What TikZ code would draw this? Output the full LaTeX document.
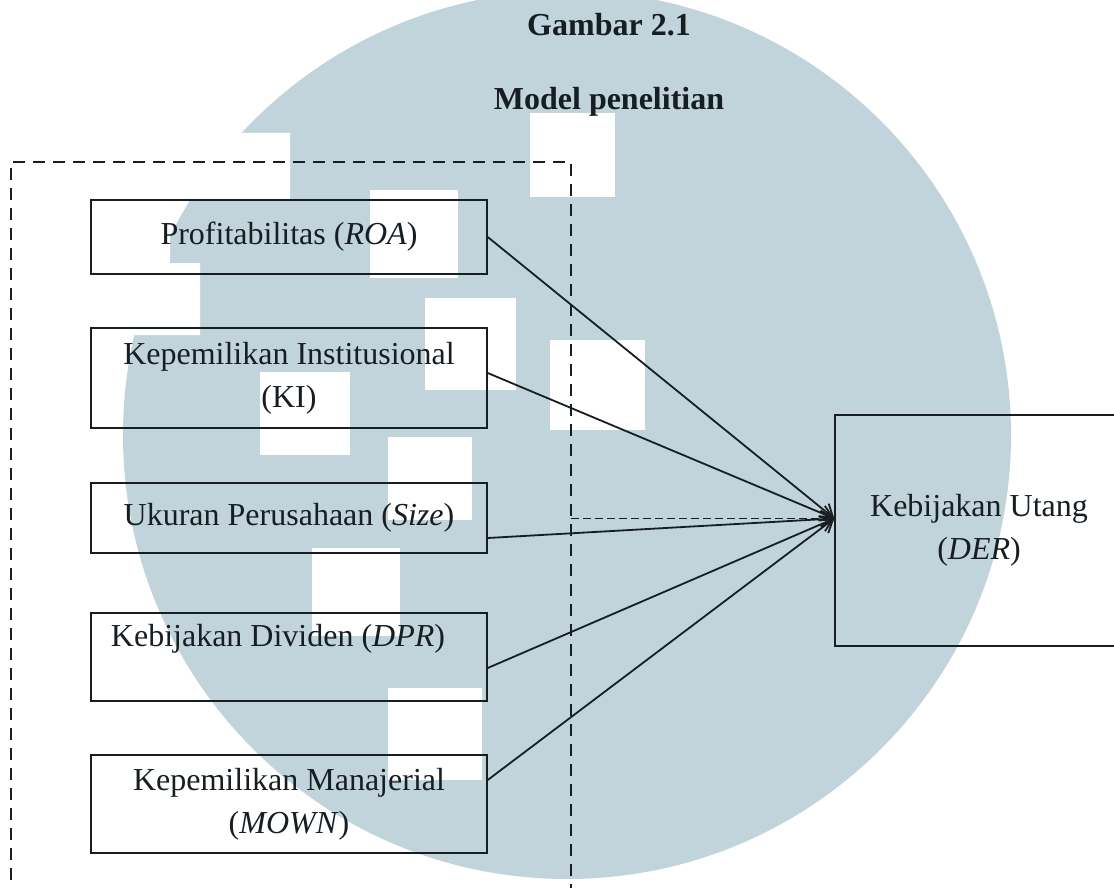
\documentclass[tikz,border=0pt]{standalone}
\usepackage{fontspec}
\setmainfont{Liberation Serif}
\usetikzlibrary{arrows.meta}
\definecolor{wmark}{RGB}{193,212,219}
\definecolor{ink}{RGB}{22,30,34}

\begin{document}
\begin{tikzpicture}[x=0.5pt,y=-0.5pt,
    font=\fontsize{16}{21.5}\selectfont,
    varbox/.style={draw=ink, text=ink, line width=0.7pt, minimum width=198pt, inner sep=0pt, align=center},
    heading/.style={font=\fontsize{16}{19}\selectfont\bfseries, text=ink, anchor=base},
    link/.style={draw=ink, line width=0.9pt, -{Straight Barb[length=6pt,width=8pt]}}]
    \useasboundingbox (0,0) rectangle (1114,888);
    \clip (0,0) rectangle (1114,888);

    % Watermark behind the diagram
    \fill[wmark] (567,435) circle (222pt);
    \fill[white] (0,133) -- (290,133) -- (290,200) -- (170,200) -- (170,263)
        -- (200,263) -- (200,335) -- (0,335) -- cycle;
    \foreach \a/\b/\c/\d in {530/113/615/197, 370/190/458/278, 425/298/516/390,
        550/340/645/430, 260/372/350/455, 388/437/472/520, 312/548/400/636, 388/688/482/780}
        \fill[white] (\a,\b) rectangle (\c,\d);

    % Title
    \node[heading] (title) at (609,36) {Gambar 2.1};
    \node[heading] (subtitle) at (609,110) {Model penelitian};

    % Dashed frame round the independent variables
    \draw[ink, line width=1.2pt, dash pattern=on 6pt off 4pt] (11,900) -- (11,162) -- (571,162) -- (571,900);

    % Independent variables
    \node[varbox, minimum height=37pt] (roa) at (289,237) {Profitabilitas (\textit{ROA})};
    \node[varbox, minimum height=50pt] (ki) at (289,378) {Kepemilikan Institusional\\(KI)};
    \node[varbox, minimum height=35pt] (size) at (289,518) {Ukuran Perusahaan (\textit{Size})};
    \node[varbox, minimum height=44pt] (dpr) at (289,657) {Kebijakan Dividen (\textit{DPR})\hspace*{11pt}\\\mbox{}};
    \node[varbox, minimum height=49pt] (mown) at (289,804) {Kepemilikan Manajerial\\(\textit{MOWN})};

    % Dependent variable
    \node[varbox, minimum width=144pt, minimum height=115.5pt] (der) at (979,530.5) {Kebijakan Utang\\(\textit{DER})};

    % Arrows into the dependent variable
    \coordinate (frame) at (571,518.5);
    \draw[link] (roa.east) -- ([yshift=6pt]der.west);
    \draw[link] ([yshift=2.5pt]ki.east) -- ([yshift=6pt]der.west);
    \draw[link] ([yshift=-10pt]size.east) -- ([yshift=6pt]der.west);
    \draw[link] ([yshift=-5.5pt]dpr.east) -- ([yshift=6pt]der.west);
    \draw[link] ([yshift=12pt]mown.east) -- ([yshift=6pt]der.west);
    \draw[link, dash pattern=on 4pt off 2pt] (frame) -- ([yshift=6pt]der.west);
\end{tikzpicture}
\end{document}
